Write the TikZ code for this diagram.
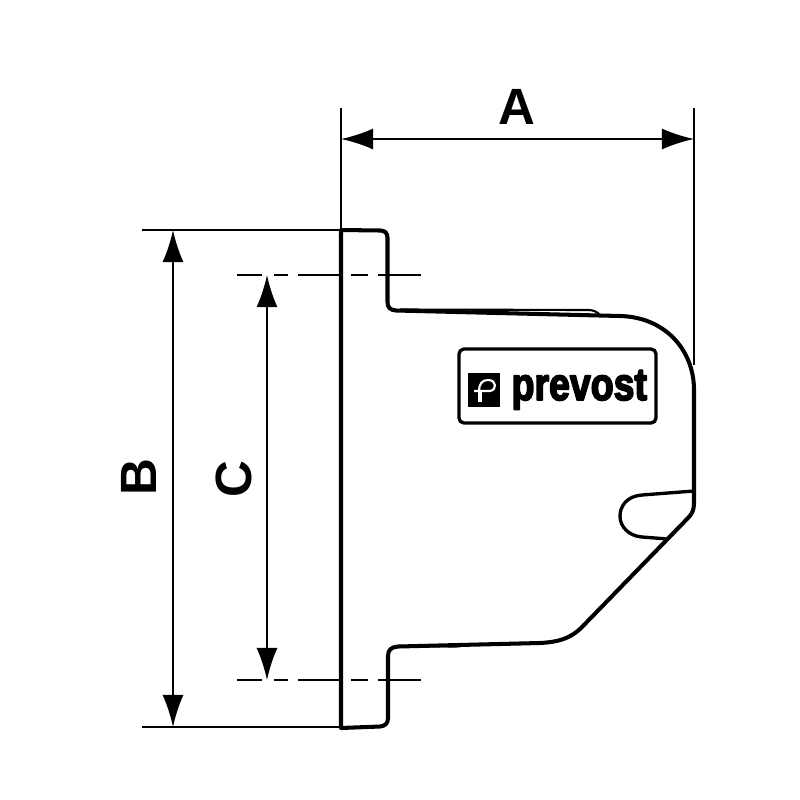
\documentclass[tikz,border=0pt]{standalone}
\usepackage{fontspec}
\setmainfont{Liberation Sans}
\newfontfamily\logofont[FakeBold=4]{Liberation Sans Bold}
\usetikzlibrary{arrows.meta}

\begin{document}
\begin{tikzpicture}[x=0.01cm,y=-0.01cm,line cap=round,line join=round,
	>={Latex[length=0.32cm,width=0.21cm]},
	body/.style={line width=1.15pt},
	thin line/.style={line width=0.55pt,line cap=butt},
	dim/.style={thin line,<->},
	axis line/.style={thin line,dash pattern=on 25 *0.01cm off 12 *0.01cm on 14 *0.01cm off 10 *0.01cm on 43 *0.01cm off 10 *0.01cm on 17 *0.01cm off 10 *0.01cm on 44 *0.01cm},
	dimlabel/.style={font=\fontsize{14.5}{14.5}\selectfont\bfseries,inner sep=0pt}]
	\useasboundingbox (0,0) rectangle (800,800);
	% reference points
	\coordinate (a1) at (341,139);
	\coordinate (a2) at (694,139);
	\coordinate (a1top) at (341,108);
	\coordinate (a2top) at (694,108);
	\coordinate (a2low) at (694,365);
	\coordinate (b1) at (173,230);
	\coordinate (b2) at (173,727);
	\coordinate (b1left) at (142,230);
	\coordinate (b2left) at (142,727);
	\coordinate (b1right) at (341,230);
	\coordinate (b2right) at (341,727);
	\coordinate (c1) at (267,275);
	\coordinate (c2) at (267,680);
	\coordinate (c1left) at (237,275);
	\coordinate (c1right) at (421,275);
	\coordinate (c2left) at (237,680);
	\coordinate (c2right) at (421,680);
	% outline
	\draw[body] (341,230) -- (380,230.5) .. controls (385,230.5) and (387.5,233) .. (387.5,238)
		-- (387.5,302) .. controls (387.5,307.5) and (390,310) .. (396,310.5)
		-- (620,316) .. controls (665,317) and (694,350) .. (694,390)
		-- (694,503) .. controls (694,510) and (692,514) .. (688,518)
		-- (582,627) .. controls (570,639) and (558,642) .. (540,643)
		-- (398,646.5) .. controls (391,647) and (388,650) .. (388,656)
		-- (388,718) .. controls (388,723.5) and (385,726) .. (380,726.5)
		-- (341,728) -- cycle;
	% ridges
	\draw[thin line,line width=0.6pt] (400,309.5) -- (588,310) .. controls (594,310) and (597,312) .. (600,315);
	\draw[thin line,line width=0.6pt] (400,646) -- (455,646.5) .. controls (459,646.5) and (462,646) .. (465,644.5);
	% slot
	\draw[body,line width=0.95pt] (694,491) -- (642,495) .. controls (627,496) and (620,506) .. (620,516)
		.. controls (620,527) and (629,536) .. (642,537) -- (668,539);
	% dimension lines
	\draw[thin line] (a1top) -- (b1right);
	\draw[thin line] (a2top) -- (a2low);
	\draw[thin line] (b1left) -- (b1right);
	\draw[thin line] (b2left) -- (b2right);
	\draw[axis line] (c1left) -- (c1right);
	\draw[axis line] (c2left) -- (c2right);
	\draw[dim] (a1) -- (a2);
	\draw[dim] (b1) -- (b2);
	\draw[dim] (c1) -- (c2);
	\node[dimlabel] (lblA) at (517,107) {A};
	\node[dimlabel,rotate=90] (lblB) at (139,477) {B};
	\node[dimlabel,rotate=90] (lblC) at (234,479) {C};
	% logo
	\draw[body,line width=0.95pt,rounded corners=0.05cm] (459,349) rectangle (656,423);
	\fill (468,373) rectangle (500,407);
	\draw[white,line width=0.6pt,line cap=butt] (474,391) -- (490,391)
		.. controls (497,390) and (497,380) .. (488,380) .. controls (482,380) and (479,384) .. (479,391);
	\draw[white,line width=1pt,line cap=butt] (480,391) -- (480,402);
	\node[font=\logofont\fontsize{13}{13}\selectfont,xscale=0.82,inner sep=0pt,anchor=base west] (logotext) at (511,400) {prevost};
\end{tikzpicture}
\end{document}
